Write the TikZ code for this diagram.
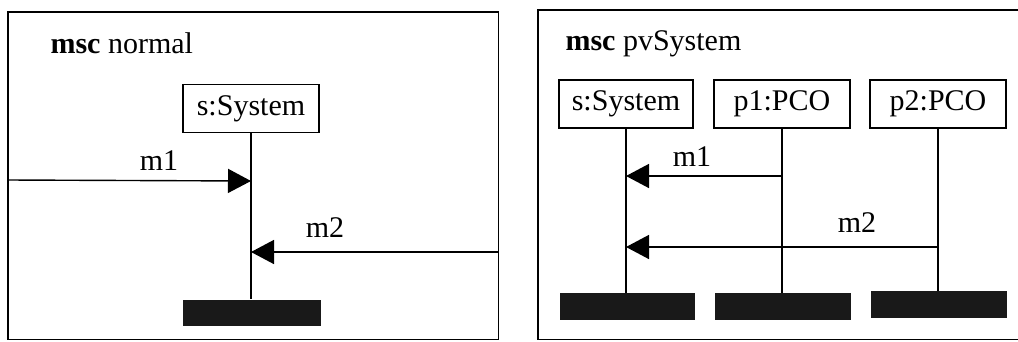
\documentclass[tikz,border=0pt]{standalone}
\usepackage{fontspec}
\setmainfont{Liberation Serif}
\usetikzlibrary{arrows.meta}
\begin{document}
\begin{tikzpicture}[x=1pt,y=-1pt,
  every node/.style={font=\fontsize{30}{36}\selectfont},
  frame/.style={line width=1.6pt},
  inst/.style={draw,line width=1.6pt,inner sep=0pt,minimum height=48pt},
  endbar/.style={fill=black!90,inner sep=0pt,minimum height=26pt},
  life/.style={line width=1.7pt},
  msg/.style={line width=1.4pt,-{Triangle[length=23pt,width=24pt]}},
  lbl/.style={anchor=base}]
\useasboundingbox (0,0) rectangle (1018,341);
\clip (0,0) rectangle (1018,341);

% left chart: msc normal
\draw[frame] (8,12) rectangle (498.5,339.5);
\node[anchor=base west] (t1) at (47,53) {\textbf{msc} normal};
\node[inst,minimum width=136pt] (s1) at (251,108.5) {s:System};
\node[endbar,minimum width=138pt] (e1) at (252,312.5) {};
\draw[life] (s1.south) -- (s1.south |- e1.north);
\coordinate (g1) at (8,180);
\coordinate (g2) at (498.5,252);
\coordinate (r1) at (251,181);
\coordinate (r2) at (251,252);
\draw[msg] (g1) -- (r1);
\draw[msg] (g2) -- (r2);
\node[lbl] (m1a) at (159,170) {m1};
\node[lbl] (m2a) at (325,237) {m2};

% right chart: msc pvSystem (frame runs past the right edge)
\draw[frame] (1030,339.5) -- (538,339.5) -- (538,10) -- (1030,10);
\node[anchor=base west] (t2) at (562,50) {\textbf{msc} pvSystem};
\node[inst,minimum width=134pt] (s2) at (626,104) {s:System};
\node[inst,minimum width=136pt] (p1) at (782,104) {p1:PCO};
\node[inst,minimum width=136pt] (p2) at (938,104) {p2:PCO};
\node[endbar,minimum width=135pt,minimum height=27pt] (e2) at (627.5,306.5) {};
\node[endbar,minimum width=136pt,minimum height=27pt] (e3) at (783,306.5) {};
\node[endbar,minimum width=136pt,minimum height=27pt] (e4) at (939,304.5) {};
\draw[life] (s2.south) -- (s2.south |- e2.north);
\draw[life] (p1.south) -- (p1.south |- e3.north);
\draw[life] (p2.south) -- (p2.south |- e4.north);
\draw[msg] (p1.south |- 0,176) -- (s2.south |- 0,176);
\draw[msg] (p2.south |- 0,247) -- (s2.south |- 0,247);
\node[lbl] (m1b) at (692,166) {m1};
\node[lbl] (m2b) at (857,232) {m2};
\end{tikzpicture}
\end{document}
